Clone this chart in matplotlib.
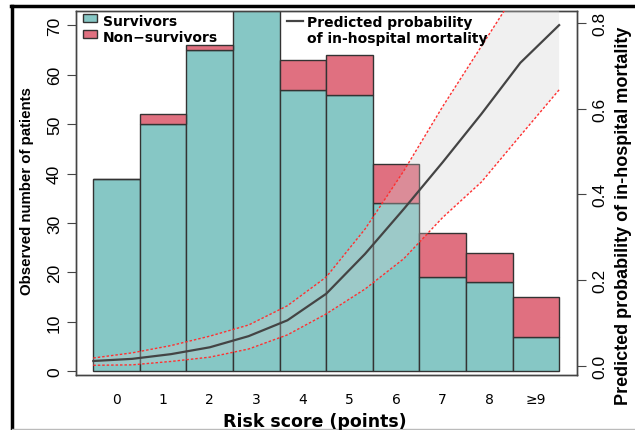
import numpy as np
import matplotlib
matplotlib.use("Agg")
import matplotlib.pyplot as plt
from matplotlib.lines import Line2D

# bar data (observed patients per risk score)
scores = ["0", "1", "2", "3", "4", "5", "6", "7", "8", "\u22659"]
survivors = [39, 50, 65, 76, 57, 56, 34, 19, 18, 7]
non_survivors = [0, 2, 1, 3, 6, 8, 8, 9, 6, 8]

# predicted probability of in-hospital mortality (13 points over the bars)
prob = [0.011, 0.016, 0.027, 0.043, 0.069, 0.106, 0.168, 0.261, 0.366, 0.475, 0.588, 0.707, 0.795]
prob_lo = [0.001, 0.002, 0.010, 0.020, 0.039, 0.072, 0.121, 0.179, 0.250, 0.346, 0.429, 0.537, 0.644]
prob_hi = [0.018, 0.030, 0.047, 0.069, 0.095, 0.140, 0.207, 0.319, 0.455, 0.605, 0.746, 0.887, 1.010]

teal = "#86c7c5"
red = "#e07080"
edge = "#333333"
arial = ["Liberation Sans", "DejaVu Sans"]

fig = plt.figure(figsize=(6.35, 4.31), dpi=100)
ax = fig.add_axes([0.1197, 0.1276, 0.7887, 0.8446])

x = np.arange(len(scores))
b1 = ax.bar(x, survivors, width=1.0, color=teal, edgecolor=edge, linewidth=1, zorder=2)
b2 = ax.bar(x, non_survivors, bottom=survivors, width=1.0, color=red, edgecolor=edge, linewidth=1, zorder=2)
ax.set_xlim(-0.872, 9.88)
ax.set_ylim(-0.75, 72.9)
ax.set_xticks(x)
ax.set_xticklabels(scores, fontsize=10)
ax.tick_params(axis="x", length=0, pad=12)
ax.set_yticks(np.arange(0, 71, 10))
ax.tick_params(axis="y", length=6.5, width=0.8, color="#444444", pad=3.6, labelrotation=90)
for lab in ax.get_yticklabels():
    lab.set_family(arial)
    lab.set_fontsize(12.5)
    lab.set_va("center")
for s in ax.spines.values():
    s.set_color("#444444")
    s.set_linewidth(1)

# probability curve on the right axis
ax2 = ax.twinx()
ax2.set_ylim(-0.0217, 0.828)
xc = np.linspace(-0.5, 9.5, len(prob))
ax2.fill_between(xc, prob_lo, prob_hi, color="#d0d0d0", alpha=0.3, linewidth=0, zorder=3)
ax2.plot(xc, prob_hi, color="#ff3030", lw=1, ls=(0, (1.8, 1.4)), zorder=4)
ax2.plot(xc, prob_lo, color="#ff3030", lw=1, ls=(0, (1.8, 1.4)), zorder=4)
line, = ax2.plot(xc, prob, color="#444444", lw=1.6, zorder=5)
ax2.set_yticks([0.0, 0.2, 0.4, 0.6, 0.8])
ax2.set_yticklabels(["0.0", "0.2", "0.4", "0.6", "0.8"])
ax2.tick_params(axis="y", length=6.5, width=0.8, color="#444444", pad=4.8, labelrotation=90)
for lab in ax2.get_yticklabels():
    lab.set_family(arial)
    lab.set_fontsize(12.5)
    lab.set_va("center")
for s in ax2.spines.values():
    s.set_color("#444444")
    s.set_linewidth(1)

# legends
leg1 = ax2.legend([b1, b2], ["Survivors", "Non\u2212survivors"], loc="upper left",
                  bbox_to_anchor=(0.014, 0.992), frameon=False, borderpad=0, borderaxespad=0,
                  handlelength=1.0, handleheight=0.45, handletextpad=0.45, labelspacing=0.15,
                  prop={"weight": "bold", "size": 10})
for h in leg1.legend_handles:
    h.set_height(6)
    h.set_y(h.get_y() + 1)
ax2.add_artist(leg1)
ax2.legend([line, Line2D([], [], color="none")], ["Predicted probability", "of in-hospital mortality"],
           loc="upper left", bbox_to_anchor=(0.422, 0.988), frameon=False, borderpad=0,
           borderaxespad=0, handlelength=1.15, handletextpad=0.3, labelspacing=0.15,
           prop={"weight": "bold", "size": 10})

fig.text(315 / 635, 1 - 422 / 431, "Risk score (points)", ha="center", va="center",
         fontsize=12.5, fontweight="bold")
fig.text(27.5 / 635, 1 - 191.5 / 431, "Observed number of patients", ha="center", va="center",
         rotation=90, fontsize=10.8, fontweight="bold", family=arial)
fig.text(624 / 635, 1 - 216 / 431, "Predicted probability of in-hospital mortality", ha="center",
         va="center", rotation=90, fontsize=13, fontweight="bold", family=arial)

# outer frame of the original figure
fig.add_artist(Line2D([12 / 635, 12 / 635], [0, 1 - 7 / 431], color="black", lw=2.5))
fig.add_artist(Line2D([11 / 635, 1], [1 - 7 / 431, 1 - 7 / 431], color="black", lw=2.5))
fig.add_artist(Line2D([12 / 635, 1], [1 - 430 / 431, 1 - 430 / 431], color="#bbbbbb", lw=1))

fig.savefig("out.png", dpi=100)
